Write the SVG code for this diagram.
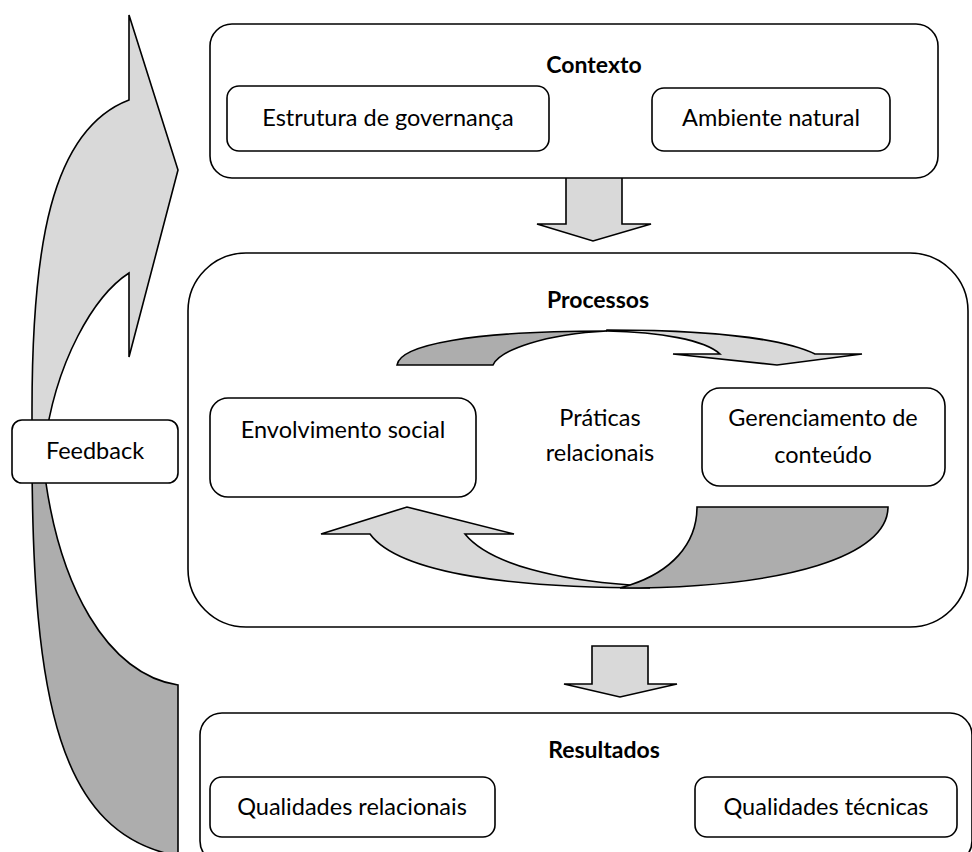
<svg xmlns="http://www.w3.org/2000/svg" width="972" height="852" viewBox="0 0 972 852">
<style>
.box{fill:#fff;stroke:#000;stroke-width:1.6}
.frame{fill:none;stroke:#000;stroke-width:1.6}
.light{fill:#d9d9d9;stroke:#000;stroke-width:1.6;stroke-linejoin:miter}
.dark{fill:#adadad;stroke:#000;stroke-width:1.6}
.t{font-family:Lato,"Open Sans","Liberation Sans",sans-serif;font-size:23.5px;fill:#000;text-anchor:middle}
.h{font-family:Lato,"Open Sans","Liberation Sans",sans-serif;font-size:23px;font-weight:bold;fill:#000;text-anchor:middle}
</style>
<rect width="972" height="852" fill="#fff"/>
<g id="connectors">
  <g id="feedback-arrow">
    <path class="light" d="M129,100 L129,15 L178,170 L129,357 L129,273 C95,295 55,360 44,450 L32,450 L32,410 C32,250 50,130 129,100 Z"/>
    <path class="dark" d="M42,450 C55,590 110,675 178,685 L178,856 C60,834 32,704 32,450 Z"/>
  </g>
  <path id="arrow-contexto-processos" class="light" d="M566,178 L566,224 L537,224 L593,241 L651,224 L622,224 L622,178"/>
  <path id="arrow-processos-resultados" class="light" d="M592,646 L592,684 L564,684 L620,697 L677,684 L648,684 L648,646 Z"/>
</g>
<g id="contexto">
  <rect class="box" x="210" y="24" width="728" height="154" rx="22"/>
  <text class="h" x="594" y="73">Contexto</text>
  <g id="estrutura">
    <rect class="box" x="227" y="86" width="322" height="65" rx="12"/>
    <text class="t" x="388" y="126">Estrutura de governança</text>
  </g>
  <g id="ambiente">
    <rect class="box" x="652" y="88" width="238" height="63" rx="12"/>
    <text class="t" x="771" y="126">Ambiente natural</text>
  </g>
</g>
<g id="processos">
  <rect class="frame" x="188" y="253" width="780" height="374" rx="58"/>
  <text class="h" x="598" y="308">Processos</text>
  <g id="ciclo">
    <path class="dark" d="M397,365 C400,345 470,331 607,331 C545,334 500,350 493,365 Z"/>
    <path class="light" d="M607,330 C700,330 780,337 815,354 L862,354 L777,365 L673,354 L720,354 C705,340 660,332 607,331 Z"/>
    <path class="light" d="M370,534 L321,534 L407,507 L514,534 L465,534 C490,565 560,580 630,585 L650,588 C520,588 400,575 370,534 Z"/>
    <path class="dark" d="M697,507 L888,507 C888,555 790,588 620,588 L630,585 C670,572 697,545 697,507 Z"/>
  </g>
  <g id="envolvimento">
    <rect class="box" x="210" y="398" width="266" height="99" rx="18"/>
    <text class="t" x="343" y="438">Envolvimento social</text>
  </g>
  <g id="praticas">
    <text class="t" x="600" y="426">Práticas</text>
    <text class="t" x="600" y="461">relacionais</text>
  </g>
  <g id="gerenciamento">
    <rect class="box" x="702" y="388" width="243" height="98" rx="18"/>
    <text class="t" x="823" y="426">Gerenciamento de</text>
    <text class="t" x="823" y="463">conteúdo</text>
  </g>
</g>
<g id="resultados">
  <rect class="frame" x="200" y="713" width="772" height="150" rx="22"/>
  <text class="h" x="604" y="758">Resultados</text>
  <g id="relacionais">
    <rect class="box" x="210" y="777" width="285" height="60" rx="12"/>
    <text class="t" x="352" y="815">Qualidades relacionais</text>
  </g>
  <g id="tecnicas">
    <rect class="box" x="695" y="777" width="262" height="60" rx="12"/>
    <text class="t" x="826" y="815">Qualidades técnicas</text>
  </g>
</g>
<g id="feedback">
  <rect class="box" x="12" y="420" width="166" height="63" rx="10"/>
  <text class="t" x="95" y="459">Feedback</text>
</g>
</svg>
